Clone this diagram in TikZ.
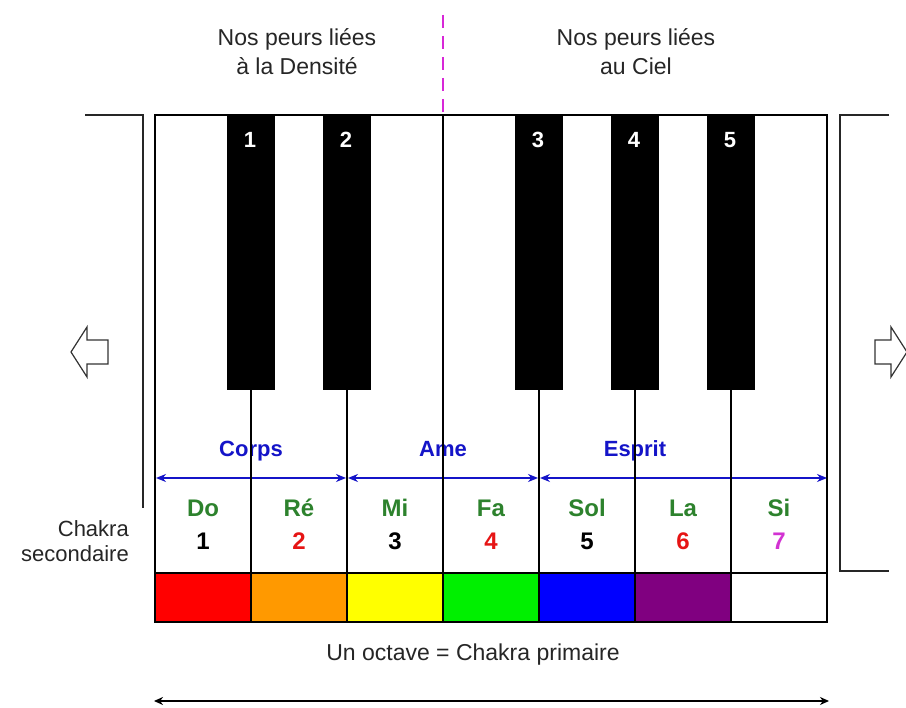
\documentclass[tikz,border=0pt]{standalone}
\usepackage{fontspec}
\setmainfont{Liberation Sans}
\usetikzlibrary{arrows.meta}
\definecolor{notegreen}{RGB}{45,130,45}
\definecolor{labelblue}{RGB}{20,20,200}
\definecolor{numred}{RGB}{230,20,20}
\definecolor{nummag}{RGB}{210,50,210}
\definecolor{dashmag}{RGB}{215,40,215}
\definecolor{cred}{RGB}{255,0,0}
\definecolor{corange}{RGB}{255,153,0}
\definecolor{cyellow}{RGB}{255,255,0}
\definecolor{cgreen}{RGB}{0,240,0}
\definecolor{cblue}{RGB}{0,0,255}
\definecolor{cpurple}{RGB}{128,0,128}
\definecolor{cwhite}{RGB}{255,255,255}
\tikzset{
  plain/.style={font=\fontsize{23}{29}\selectfont, text=black!85, align=center, inner sep=0pt},
  notename/.style={font=\bfseries\fontsize{24}{26}\selectfont, text=notegreen, inner sep=0pt, anchor=base},
  notenum/.style={font=\bfseries\fontsize{24}{26}\selectfont, inner sep=0pt, anchor=base},
  grouplabel/.style={font=\bfseries\fontsize{22}{24}\selectfont, text=labelblue, inner sep=0pt, anchor=base},
  blacknum/.style={font=\bfseries\fontsize{22}{24}\selectfont, text=white, inner sep=0pt, anchor=base},
  keyline/.style={draw=black, line width=1.4pt},
  bluearrow/.style={draw=labelblue, line width=1.3pt, {Stealth[length=10pt,width=8pt]}-{Stealth[length=10pt,width=8pt]}},
  blackarrow/.style={draw=black, line width=1.8pt, {Stealth[length=9pt,width=8pt]}-{Stealth[length=9pt,width=8pt]}},
  hollow/.style={draw=black!80, line width=1.2pt, fill=white},
  bracket/.style={draw=black!85, line width=1.4pt}
}
\begin{document}
\begin{tikzpicture}[x=1pt,y=-1pt]
\useasboundingbox (0,0) rectangle (906,708);
\fill[white] (0,0) rectangle (906,708);
\begin{scope}
\clip (0,0) rectangle (906,708);

% colour strip
\foreach \i/\c in {0/cred,1/corange,2/cyellow,3/cgreen,4/cblue,5/cpurple,6/cwhite}{
  \fill[\c] (155+96*\i,573) rectangle (251+96*\i,622);
}

% top texts
\node[plain, anchor=base] (densite) at (297,75) {Nos peurs liées\\à la Densité};
\node[plain, anchor=base] (ciel) at (636,75) {Nos peurs liées\\au Ciel};
\draw[dashmag, line width=2.4pt, dash pattern=on 13pt off 8pt] (443,15) -- (443,115);

% group labels and arrows
\node[grouplabel] (corps) at (251,457) {Corps};
\node[grouplabel] (ame) at (443,457) {Ame};
\node[grouplabel] (esprit) at (635,457) {Esprit};
\coordinate (a0) at (156,478);
\coordinate (a1) at (346,478);
\coordinate (a2) at (348,478);
\coordinate (a3) at (538,478);
\coordinate (a4) at (540,478);
\coordinate (a5) at (827,478);
\draw[bluearrow] (a0) -- (a1);
\draw[bluearrow] (a2) -- (a3);
\draw[bluearrow] (a4) -- (a5);

% note names and numbers
\foreach \i/\n/\num/\col in {0/Do/1/black,1/Ré/2/numred,2/Mi/3/black,3/Fa/4/numred,4/Sol/5/black,5/La/6/numred,6/Si/7/nummag}{
  \node[notename] (name\i) at (203+96*\i,517) {\n};
  \node[notenum, text=\col] (num\i) at (203+96*\i,550) {\num};
}

% key outlines and dividers
\draw[keyline] (155,115) rectangle (827,622);
\foreach \i in {1,...,6}{
  \draw[keyline] (155+96*\i,115) -- (155+96*\i,622);
}
\draw[black, line width=2.6pt] (155,573) -- (827,573);

% black keys
\foreach \k/\x in {1/251,2/347,3/539,4/635,5/731}{
  \fill[black] (\x-24,115) rectangle (\x+24,390);
  \node[blacknum] (bk\k) at (\x-1,148) {\k};
}

% brackets
\draw[bracket] (85,115) -- (143,115) -- (143,508);
\draw[bracket] (889,115) -- (840,115) -- (840,571) -- (889,571);

% hollow arrows
\draw[hollow] (71,352) -- (87,327) -- (87,340) -- (108,340) -- (108,364) -- (87,364) -- (87,377) -- cycle;
\draw[hollow] (907,352) -- (891,327) -- (891,340) -- (875,340) -- (875,364) -- (891,364) -- (891,377) -- cycle;

% chakra secondaire
\node[font=\fontsize{22}{25}\selectfont, text=black!85, align=right, inner sep=0pt, anchor=base east] (chakra) at (129,562) {Chakra\\secondaire};

% bottom
\node[plain, anchor=base] (octave) at (473,661) {Un octave = Chakra primaire};
\coordinate (b0) at (154,701);
\coordinate (b1) at (829,701);
\draw[blackarrow] (b0) -- (b1);
\end{scope}
\end{tikzpicture}
\end{document}
